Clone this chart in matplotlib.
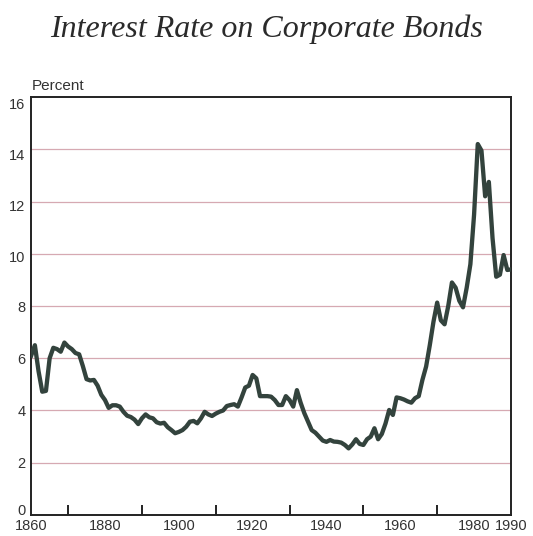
import numpy as np
import matplotlib
matplotlib.use("Agg")
import matplotlib.pyplot as plt
from matplotlib.transforms import ScaledTranslation

# annual yields, 1860-1990
years = list(range(1860, 1991))
rate = [
    6.10, 6.50, 5.50, 4.72, 4.75, 6.00, 6.40, 6.35, 6.25, 6.60,   # 1860s
    6.45, 6.35, 6.20, 6.15, 5.70, 5.20, 5.15, 5.17, 4.95, 4.60,   # 1870s
    4.40, 4.10, 4.20, 4.20, 4.15, 3.95, 3.80, 3.75, 3.65, 3.48,   # 1880s
    3.70, 3.85, 3.74, 3.70, 3.55, 3.50, 3.53, 3.36, 3.25, 3.13,   # 1890s
    3.18, 3.25, 3.38, 3.57, 3.60, 3.51, 3.70, 3.95, 3.85, 3.79,   # 1900s
    3.88, 3.95, 4.00, 4.17, 4.21, 4.24, 4.15, 4.50, 4.88, 4.95,   # 1910s
    5.36, 5.23, 4.55, 4.55, 4.55, 4.53, 4.40, 4.21, 4.21, 4.55,   # 1920s
    4.40, 4.15, 4.78, 4.30, 3.90, 3.57, 3.25, 3.15, 3.00, 2.85,   # 1930s
    2.80, 2.87, 2.81, 2.80, 2.77, 2.68, 2.55, 2.70, 2.90, 2.72,   # 1940s
    2.68, 2.90, 3.00, 3.32, 2.90, 3.10, 3.50, 4.02, 3.83, 4.50,   # 1950s
    4.47, 4.42, 4.35, 4.30, 4.47, 4.55, 5.17, 5.68, 6.50, 7.40,   # 1960s
    8.13, 7.45, 7.30, 8.00, 8.90, 8.70, 8.20, 7.95, 8.70, 9.60,   # 1970s
    11.50, 14.20, 13.95, 12.20, 12.75, 10.60, 9.12, 9.20, 9.95, 9.38,  # 1980s
    9.40,
]
yticks = [0, 2, 4, 6, 8, 10, 12, 14, 16]
xticks = [1860, 1880, 1900, 1920, 1940, 1960, 1980, 1990]
minor_x = [1870, 1890, 1910, 1930, 1950, 1970, 1980]

fig = plt.figure(figsize=(5.33, 5.36), dpi=100)
ax = fig.add_axes([0.0585, 0.0392, 0.9002, 0.7798])

for v in yticks[1:-1]:
    ax.axhline(v, color="#d6a9b2", lw=0.9, zorder=1)

ax.plot(years, rate, color="#33433d", lw=3.1, solid_joinstyle="round", zorder=3)

ax.set_xlim(1860, 1990)
ax.set_ylim(0, 16)
ax.set_yticks(yticks)
ax.set_xticks(xticks)
ax.set_xticks(minor_x, minor=True)
ax.tick_params(axis="y", length=0, pad=4, labelsize=10.5, labelcolor="#333333")
ax.tick_params(axis="x", which="major", length=0, pad=3, labelsize=10.5, labelcolor="#333333")
ax.tick_params(axis="x", which="minor", direction="in", length=7, width=1.4, color="#222222")
for lab in ax.get_xticklabels() + ax.get_yticklabels():
    lab.set_family("Liberation Sans")

# the printed labels sit a little off their gridlines
nudge = {0: 5, 10: -3, 12: -4, 14: -5, 16: -6}
for val, lab in zip(yticks, ax.get_yticklabels()):
    dy = nudge.get(val, 0)
    if dy:
        lab.set_transform(lab.get_transform() + ScaledTranslation(0, dy / 100, fig.dpi_scale_trans))

for s in ax.spines.values():
    s.set_linewidth(1.4)
    s.set_color("#222222")

fig.text(0.0595, 0.832, "Percent", fontsize=11, color="#333333",
         family="Liberation Sans", ha="left", va="baseline")
fig.text(0.5, 0.9315, "Interest Rate on Corporate Bonds", fontsize=23,
         style="italic", family="Liberation Serif", color="#2a2a2a",
         ha="center", va="baseline")

fig.savefig("out.png", dpi=100)
